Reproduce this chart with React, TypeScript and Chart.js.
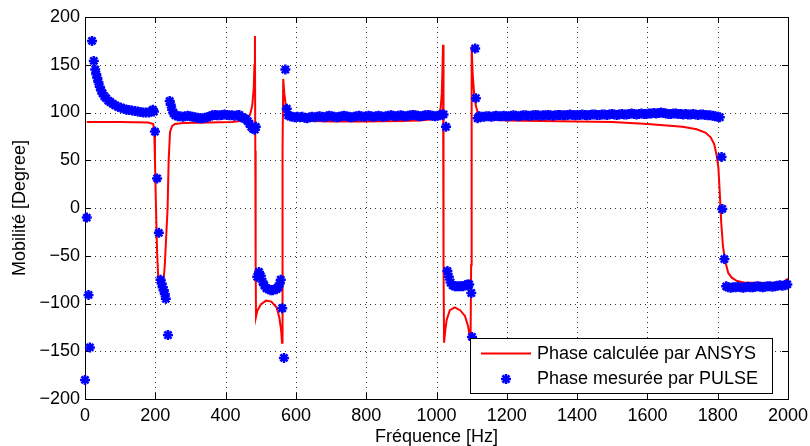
import React, { useEffect, useRef } from 'react';
import { Chart, registerables } from 'chart.js';

Chart.register(...registerables);

const FONT = "'Liberation Sans', Arial, Helvetica, sans-serif";

const xTicks = [0, 200, 400, 600, 800, 1000, 1200, 1400, 1600, 1800, 2000];
const yTicks = [-200, -150, -100, -50, 0, 50, 100, 150, 200];
const xTitle = 'Fréquence [Hz]';
const yTitle = 'Mobilité [Degree]';
const legendLabels = ['Phase calculée par ANSYS', 'Phase mesurée par PULSE'];

// ANSYS computed phase (red line)
const ansysFreq = [
  5, 100, 180, 194, 197, 199, 202, 205, 208, 212, 218, 223, 227, 231, 235, 238, 242, 248, 256, 280,
  350, 420, 440, 460, 470, 476, 480, 482, 483.5, 484.5, 485.5, 486.5, 490, 500, 515, 530, 545, 553, 558, 560.5,
  561.5, 562.5, 564, 567, 572, 580, 600, 650, 700, 800, 900, 950, 990, 1005, 1012, 1015, 1017, 1018.5, 1019.5, 1020.5,
  1021.5, 1025, 1029, 1038, 1052, 1067, 1081, 1090, 1095, 1097, 1098.5, 1099.5, 1100.5, 1103, 1107, 1112, 1118, 1130, 1150, 1200,
  1300, 1400, 1500, 1600, 1700, 1740, 1765, 1780, 1790, 1797, 1802, 1806, 1810, 1815, 1821, 1830, 1840, 1855, 1875, 1950,
  1985, 2000,
];
const ansysPhase = [
  90, 90, 89.5, 88, 80, 50, 0, -45, -70, -78, -80, -78, -60, -30, 0, 50, 80, 86, 88, 89,
  89.5, 90, 91, 93, 98, 108, 125, 150, 180, 60, -60, -114, -108, -101, -97, -98, -104, -115, -128, -141,
  -50, 60, 135, 120, 105, 97, 93, 91, 90.5, 90.5, 91, 91.5, 93, 97, 105, 120, 145, 171, 60, -60,
  -141, -128, -117, -107, -104, -107, -113, -124, -136, -138, -60, 60, 169, 140, 120, 107, 99, 95, 93, 91.5,
  91, 90.5, 90, 88, 85, 82.5, 79, 74, 67, 55, 42, 15, -15, -40, -55, -68, -73, -76.5, -78, -78.5,
  -78, -74,
];

// PULSE measured phase (blue stars)
const pulseFreq = [
  0, 5, 10, 14, 20, 25, 29, 32, 35, 38, 42, 46, 50, 55, 60, 66, 72, 79, 86, 94,
  102, 110, 118, 126, 134, 142, 150, 158, 166, 174, 182, 188, 193, 196, 199, 205, 210, 215, 218, 221,
  224, 227, 230, 236, 241, 244, 248, 252, 257, 264, 271, 278, 285, 292, 299, 306, 313, 320, 327, 334,
  341, 348, 355, 362, 369, 376, 383, 390, 397, 404, 411, 418, 425, 432, 439, 446, 452, 458, 463, 468,
  473, 478, 483, 486, 490, 495, 500, 505, 510, 516, 522, 528, 534, 540, 545, 550, 554, 557, 561, 566,
  570, 574, 578, 584, 590, 597, 604, 611, 618, 625, 632, 639, 646, 653, 660, 667, 674, 681, 688, 695,
  702, 709, 716, 723, 730, 737, 744, 751, 758, 765, 772, 779, 786, 793, 800, 807, 814, 821, 828, 835,
  842, 849, 856, 863, 870, 877, 884, 891, 898, 905, 912, 919, 926, 933, 940, 947, 954, 961, 968, 975,
  982, 989, 996, 1003, 1010, 1016, 1020, 1027, 1031, 1035, 1040, 1046, 1052, 1058, 1064, 1070, 1076, 1082, 1088, 1093,
  1099, 1101, 1110, 1112, 1117,
  1121, 1128, 1135, 1142, 1149, 1156, 1163, 1170, 1177, 1184, 1191, 1198,
  1205, 1212, 1219, 1226, 1233, 1240, 1247, 1254, 1261, 1268, 1275, 1282, 1289, 1296, 1303,
  1310, 1317, 1324, 1331, 1338, 1345, 1352, 1359, 1366, 1373, 1380, 1387, 1394, 1401,
  1408, 1415, 1422, 1429, 1436, 1443, 1450, 1457, 1464, 1471, 1478, 1485, 1492, 1499, 1506,
  1513, 1520, 1527, 1534, 1541, 1548, 1555, 1562, 1569, 1576, 1583, 1590, 1597, 1604,
  1611, 1618, 1625, 1632, 1639, 1646, 1653, 1660, 1667, 1674, 1681, 1688, 1695, 1702,
  1709, 1716, 1723, 1730, 1737, 1744, 1751, 1758, 1765, 1772, 1779, 1786, 1793, 1800, 1806,
  1811, 1813, 1819, 1824, 1830, 1837, 1844, 1851, 1858, 1865, 1872, 1879, 1886, 1893, 1900,
  1907, 1914, 1921, 1928, 1935, 1942, 1949, 1956, 1963, 1970, 1977, 1984, 1991, 1998,
];
const pulsePhase = [
  -180, -10, -91, -146, 175, 154, 145, 140, 136, 132, 127, 123, 120, 117, 115, 112.5, 111, 109, 107.5, 106,
  105, 104, 103, 102.5, 102, 101.5, 101, 100.5, 100, 100, 100, 101, 103, 101, 80, 31, -26, -75, -79, -83,
  -86, -90, -95, -133, 112, 108, 103, 99, 97, 96, 96, 95.5, 96, 96.5, 96, 95.5, 95, 94.5, 94, 94,
  94.5, 95, 96, 97, 97.5, 97, 97, 97.5, 98, 97.5, 97, 97, 96.5, 97, 97.5, 95, 94, 93, 91, 88,
  85, 83, 82, 85, -72, -67, -71, -77, -81, -84, -85, -86, -86, -85, -85, -83, -79, -75, -105, -157,
  145, 104, 97, 96, 95.5, 95, 95.5, 95, 95.5, 94.5, 94, 95, 95.5, 95, 95.5, 96, 95.5, 95, 96, 96.5,
  96, 95.5, 95, 95.5, 96, 96.5, 96, 95.5, 95, 95.5, 96, 96.5, 96, 95.5, 96, 96.5, 96, 95.5, 96, 96.5,
  96, 95.5, 96, 96.5, 97, 96.5, 96, 96.5, 97, 96.5, 96, 96.5, 97, 97.5, 97, 96.5, 96, 96.5, 97, 97.5,
  97, 96.5, 96, 96.5, 97, 98, 98, 85, -66, -72, -78, -81, -82, -82, -82, -82, -82, -81, -80, -80,
  -89, -135, 167, 115, 94,
  96, 95.5, 95.5, 96, 96, 95.5, 96, 96.5, 96, 96, 96.5, 96,
  96, 96.5, 97, 96.5, 96, 96.5, 97, 97, 96.5, 96.5, 97, 97.5, 97, 96.5, 97,
  97, 97.5, 97, 96.5, 97, 97.5, 97.5, 97, 97, 97.5, 98, 97.5, 97, 97.5,
  97.5, 98, 97.5, 97, 97.5, 98, 98, 97.5, 97.5, 98, 98, 97.5, 98, 98.5, 98,
  97.5, 98, 98.5, 98, 98, 98.5, 99, 98.5, 98, 98.5, 99, 98.5, 98.5, 99,
  99, 99.5, 99, 99.5, 100, 99.5, 99, 98.5, 98.5, 99, 99, 98.5, 98.5, 98,
  98.5, 98, 98, 98.5, 98, 97.5, 98, 98, 97.5, 97, 97, 96.5, 96, 95.5, 95,
  53.5, -1, -53.5, -82, -83, -83.5, -83, -83, -82.5, -83, -83.5, -83, -82.5, -83, -83,
  -82.5, -82, -82.5, -83, -82.5, -82, -82, -82.5, -82, -81.5, -81, -81.5, -81, -80,
];

function drawStar(ctx: CanvasRenderingContext2D, x: number, y: number, r: number) {
  const d = Math.cos(Math.PI / 4) * r;
  ctx.beginPath();
  ctx.moveTo(x - r, y); ctx.lineTo(x + r, y);
  ctx.moveTo(x, y - r); ctx.lineTo(x, y + r);
  ctx.moveTo(x - d, y - d); ctx.lineTo(x + d, y + d);
  ctx.moveTo(x - d, y + d); ctx.lineTo(x + d, y - d);
  ctx.stroke();
}

export default function App() {
  const ref = useRef<HTMLCanvasElement>(null);

  useEffect(() => {
    const canvas = ref.current;
    if (!canvas) return;

    const framePlugin = {
      id: 'frame',
      beforeDatasetsDraw(chart: any) {
        const { ctx, chartArea: a, scales } = chart;
        const xs = scales.x;
        const ys = scales.y;
        const tickLen = 6;
        ctx.save();
        ctx.strokeStyle = 'rgba(0,0,0,0.8)';
        ctx.lineWidth = 1;
        ctx.setLineDash([1, 4]);
        xTicks.slice(1, -1).forEach((v) => {
          const px = Math.round(xs.getPixelForValue(v)) + 0.5;
          ctx.beginPath();
          ctx.moveTo(px, a.top);
          ctx.lineTo(px, a.bottom);
          ctx.stroke();
        });
        yTicks.slice(1, -1).forEach((v) => {
          const py = Math.round(ys.getPixelForValue(v)) + 0.5;
          ctx.beginPath();
          ctx.moveTo(a.left, py);
          ctx.lineTo(a.right, py);
          ctx.stroke();
        });
        ctx.setLineDash([]);
        ctx.strokeStyle = '#000';
        xTicks.forEach((v) => {
          const px = Math.round(xs.getPixelForValue(v)) + 0.5;
          ctx.beginPath();
          ctx.moveTo(px, a.bottom);
          ctx.lineTo(px, a.bottom - tickLen);
          ctx.moveTo(px, a.top);
          ctx.lineTo(px, a.top + tickLen);
          ctx.stroke();
        });
        yTicks.forEach((v) => {
          const py = Math.round(ys.getPixelForValue(v)) + 0.5;
          ctx.beginPath();
          ctx.moveTo(a.left, py);
          ctx.lineTo(a.left + tickLen, py);
          ctx.moveTo(a.right, py);
          ctx.lineTo(a.right - tickLen, py);
          ctx.stroke();
        });
        ctx.strokeRect(a.left + 0.5, a.top + 0.5, a.right - a.left, a.bottom - a.top);
        ctx.restore();
      },
    };

    const legendPlugin = {
      id: 'customLegend',
      afterDatasetsDraw(chart: any) {
        const { ctx, chartArea: a } = chart;
        const w = 302;
        const h = 55;
        const right = a.right - 16;
        const bottom = a.bottom - 6;
        const left = right - w;
        const top = bottom - h;
        ctx.save();
        ctx.fillStyle = '#fff';
        ctx.fillRect(left, top, w, h);
        ctx.strokeStyle = '#000';
        ctx.lineWidth = 1;
        ctx.strokeRect(left + 0.5, top + 0.5, w, h);
        const row1 = top + 15.5;
        const row2 = top + 41;
        ctx.strokeStyle = '#ff0000';
        ctx.lineWidth = 2;
        ctx.beginPath();
        ctx.moveTo(left + 11, row1);
        ctx.lineTo(left + 61, row1);
        ctx.stroke();
        ctx.strokeStyle = '#0000ff';
        ctx.lineWidth = 2.5;
        drawStar(ctx, left + 36, row2, 5);
        ctx.fillStyle = '#000';
        ctx.font = `18px ${FONT}`;
        ctx.textAlign = 'left';
        ctx.textBaseline = 'middle';
        ctx.fillText(legendLabels[0], left + 67, row1 + 0.5);
        ctx.fillText(legendLabels[1], left + 67, row2);
        ctx.restore();
      },
    };

    const chart = new Chart(canvas, {
      type: 'scatter',
      data: {
        datasets: [
          {
            label: legendLabels[0],
            data: ansysFreq.map((f, i) => ({ x: f, y: ansysPhase[i] })),
            showLine: true,
            borderColor: '#ff0000',
            backgroundColor: '#ff0000',
            borderWidth: 2,
            pointRadius: 0,
            tension: 0,
            order: 2,
          },
          {
            label: legendLabels[1],
            data: pulseFreq.map((f, i) => ({ x: f, y: pulsePhase[i] })),
            showLine: false,
            pointStyle: 'star',
            pointRadius: 5,
            pointBorderWidth: 2.5,
            pointBorderColor: '#0000ff',
            pointBackgroundColor: '#0000ff',
            borderColor: '#0000ff',
            backgroundColor: '#0000ff',
            clip: false,
            order: 1,
          },
        ],
      } as any,
      options: {
        responsive: false,
        animation: false,
        devicePixelRatio: 1,
        layout: { padding: { top: 17, right: 22, bottom: 0, left: 0 } },
        plugins: {
          legend: { display: false },
          tooltip: { enabled: false },
        },
        scales: {
          x: {
            type: 'linear',
            min: 0,
            max: 2000,
            afterFit: (s: any) => {
              s.height = 47;
              s.paddingLeft = 0;
              s.paddingRight = 0;
            },
            afterBuildTicks: (s: any) => { s.ticks = xTicks.map((v) => ({ value: v })); },
            ticks: {
              autoSkip: false,
              maxRotation: 0,
              padding: 6,
              color: '#000',
              font: { family: FONT, size: 18 },
              callback: (v: any) => String(v),
            },
            grid: { display: false, drawTicks: false },
            border: { display: false },
            title: {
              display: true,
              text: xTitle,
              color: '#000',
              font: { family: FONT, size: 18, lineHeight: 1 },
              padding: { top: 0, bottom: 0 },
            },
          },
          y: {
            type: 'linear',
            min: -200,
            max: 200,
            afterFit: (s: any) => {
              s.width = 85;
              s.paddingTop = 0;
              s.paddingBottom = 0;
            },
            afterBuildTicks: (s: any) => { s.ticks = yTicks.map((v) => ({ value: v })); },
            ticks: {
              padding: 5,
              color: '#000',
              font: { family: FONT, size: 18 },
              callback: (v: any) => String(v).replace('-', '\u2212'),
            },
            grid: { display: false, drawTicks: false },
            border: { display: false },
            title: {
              display: true,
              text: yTitle,
              color: '#000',
              font: { family: FONT, size: 18, lineHeight: 1 },
              padding: { top: 11, bottom: 0 },
            },
          },
        },
      } as any,
      plugins: [framePlugin, legendPlugin],
    });

    return () => chart.destroy();
  }, []);

  return (
    <div style={{ position: 'fixed', left: 0, top: 0, width: 810, height: 446, background: '#fff' }}>
      <canvas ref={ref} width={810} height={446} style={{ display: 'block' }} />
    </div>
  );
}
